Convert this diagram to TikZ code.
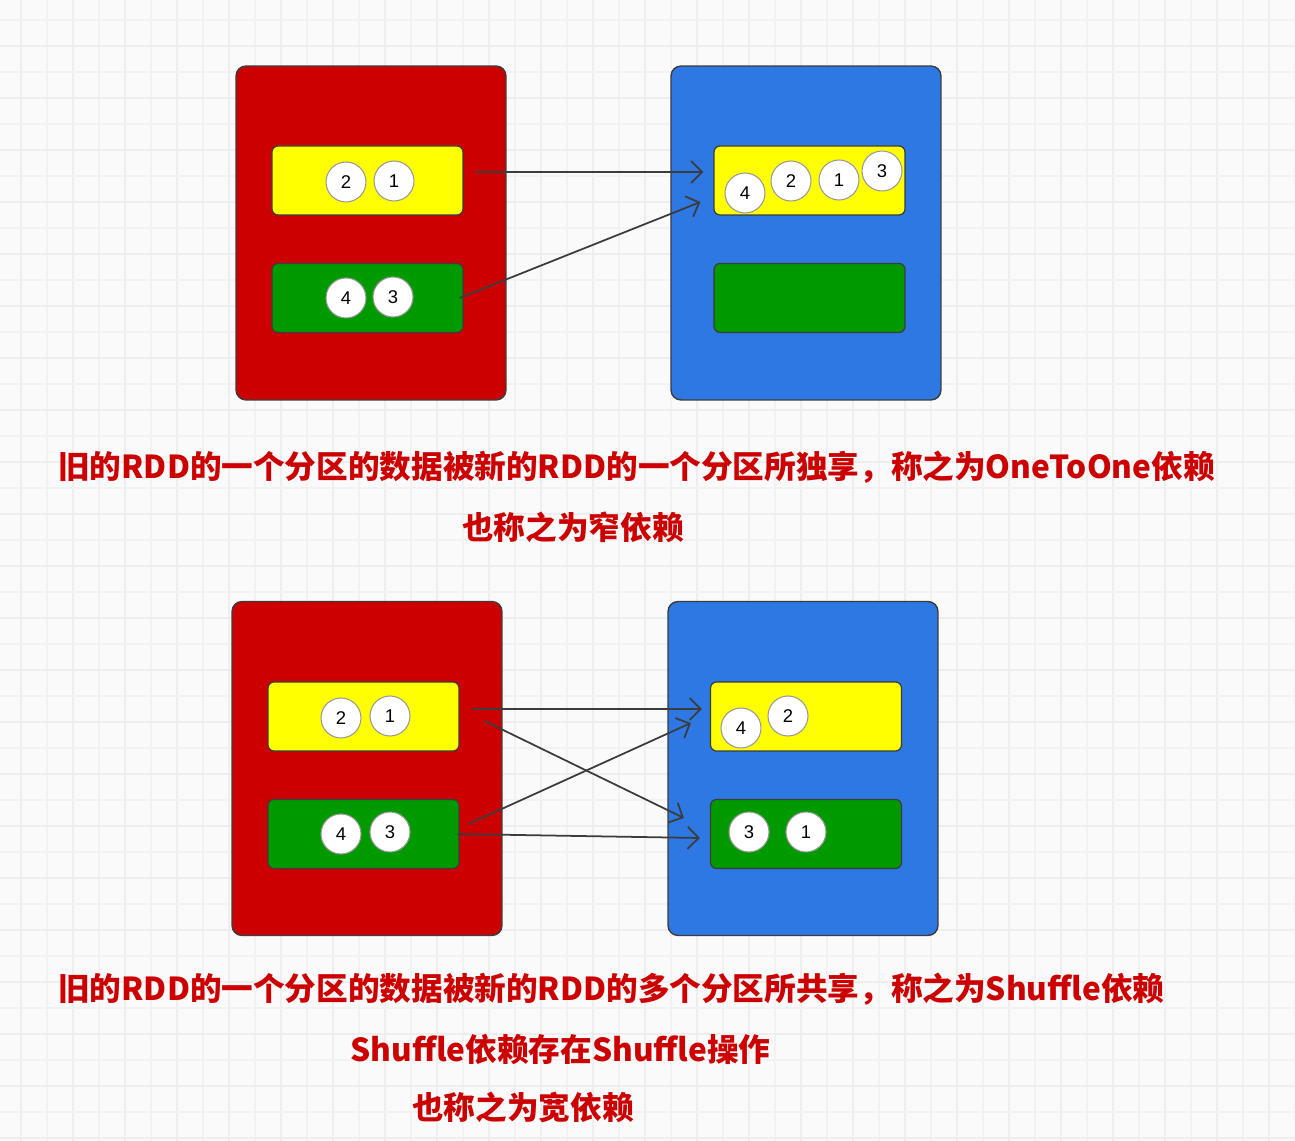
\documentclass[tikz,border=0pt]{standalone}
\usepackage{fontspec}
\usetikzlibrary{arrows.meta}
\newfontfamily\cjk{Noto Sans CJK SC}
\newfontfamily\numfont{Liberation Sans}
\definecolor{rddred}{HTML}{CC0000}
\definecolor{rddblue}{HTML}{2D78E2}
\definecolor{partyellow}{HTML}{FFFF00}
\definecolor{partgreen}{HTML}{009900}
\definecolor{bgpaper}{HTML}{FAFAFA}
\definecolor{gridthin}{HTML}{F2F2F2}
\definecolor{gridthick}{HTML}{EEEEEE}
\definecolor{edgegray}{HTML}{3C3C3C}
\tikzset{
	rdd/.style={draw=edgegray,line width=0.8pt,rounded corners=0.2cm,minimum width=5.4cm,minimum height=6.68cm,inner sep=0pt},
	part/.style={draw=edgegray,line width=0.7pt,rounded corners=0.12cm,minimum width=3.82cm,minimum height=1.38cm,inner sep=0pt},
	rec/.style={circle,draw=gray!80,line width=0.6pt,fill=white,minimum size=0.8cm,inner sep=0pt,font=\numfont\fontsize{10.5}{10.5}\selectfont},
	dep/.style={draw=edgegray,line width=1pt,-{Straight Barb[length=2.2mm,width=4.4mm]}},
	note/.style={text=rddred,font=\cjk\bfseries\fontsize{18}{20}\selectfont,anchor=west,inner sep=0pt},
}
\begin{document}
\begin{tikzpicture}[x=0.02cm,y=-0.02cm]
		\useasboundingbox (0,0) rectangle (1295,1141);
		\fill[bgpaper] (0,0) rectangle (1295,1141); % 背景
		\foreach \gx in {47,99,...,1295} \draw[gridthin,line width=0.6pt] (\gx,0) -- (\gx,1141);
		\foreach \gx in {21,73,...,1295} \draw[gridthick,line width=1.1pt] (\gx,0) -- (\gx,1141);
		\foreach \gy in {20,72,...,1141} \draw[gridthin,line width=0.6pt] (0,\gy) -- (1295,\gy);
		\foreach \gy in {46,98,...,1141} \draw[gridthick,line width=1.1pt] (0,\gy) -- (1295,\gy);
		% 窄依赖
		\node[rdd,fill=rddred] (old1) at (371,233) {};
		\node[rdd,fill=rddblue] (new1) at (806,233) {};
		\node[part,fill=partyellow] (yl1) at (367.5,180.5) {};
		\node[part,fill=partgreen] (gl1) at (367.5,298) {};
		\node[part,fill=partyellow] (yr1) at (809.5,180.5) {};
		\node[part,fill=partgreen] (gr1) at (809.5,298) {};
		\node[rec] (p1a) at (346,182) {2};
		\node[rec] (p1b) at (394,181) {1};
		\node[rec] (p1c) at (346,298) {4};
		\node[rec] (p1d) at (393,297) {3};
		\node[rec] (q1a) at (745,193) {4};
		\node[rec] (q1b) at (791,181) {2};
		\node[rec] (q1c) at (839,180) {1};
		\node[rec] (q1d) at (882,171) {3};
		\draw[dep] ([shift={(12,-8.5)}]yl1.east) -- ([shift={(-10,-8.5)}]yr1.west);
		\draw[dep] ([shift={(-4,0)}]gl1.east) -- ([shift={(-13,21.5)}]yr1.west);
		\node[note] (t1) at (58,467) {旧的RDD的一个分区的数据被新的RDD的一个分区所独享，称之为OneToOne依赖};
		\node[note] (t2) at (462,527) {也称之为窄依赖};
		% 宽依赖
		\node[rdd,fill=rddred] (old2) at (367,768.5) {};
		\node[rdd,fill=rddblue] (new2) at (803,768.5) {};
		\node[part,fill=partyellow] (yl2) at (363.5,716.5) {};
		\node[part,fill=partgreen] (gl2) at (363.5,834) {};
		\node[part,fill=partyellow] (yr2) at (806,716.5) {};
		\node[part,fill=partgreen] (gr2) at (806,834) {};
		\node[rec] (p2a) at (341,718) {2};
		\node[rec] (p2b) at (390,716) {1};
		\node[rec] (p2c) at (341,834) {4};
		\node[rec] (p2d) at (390,832) {3};
		\node[rec] (q2a) at (741,728) {4};
		\node[rec] (q2b) at (788,716) {2};
		\node[rec] (q2c) at (749,832) {3};
		\node[rec] (q2d) at (806,832) {1};
		\draw[dep] ([shift={(12,-7.5)}]yl2.east) -- ([shift={(-8,-7.5)}]yr2.west);
		\draw[dep] ([shift={(25,4.5)}]yl2.east) -- ([shift={(-26,-16)}]gr2.west);
		\draw[dep] ([shift={(9,-10)}]gl2.east) -- ([shift={(-19,6.5)}]yr2.west);
		\draw[dep] ([shift={(-2,0)}]gl2.east) -- ([shift={(-10,4)}]gr2.west);
		\node[note] (t3) at (58,989) {旧的RDD的一个分区的数据被新的RDD的多个分区所共享，称之为Shuffle依赖};
		\node[note] (t4) at (350,1049) {Shuffle依赖存在Shuffle操作};
		\node[note] (t5) at (412,1107) {也称之为宽依赖};
	\end{tikzpicture}
\end{document}
